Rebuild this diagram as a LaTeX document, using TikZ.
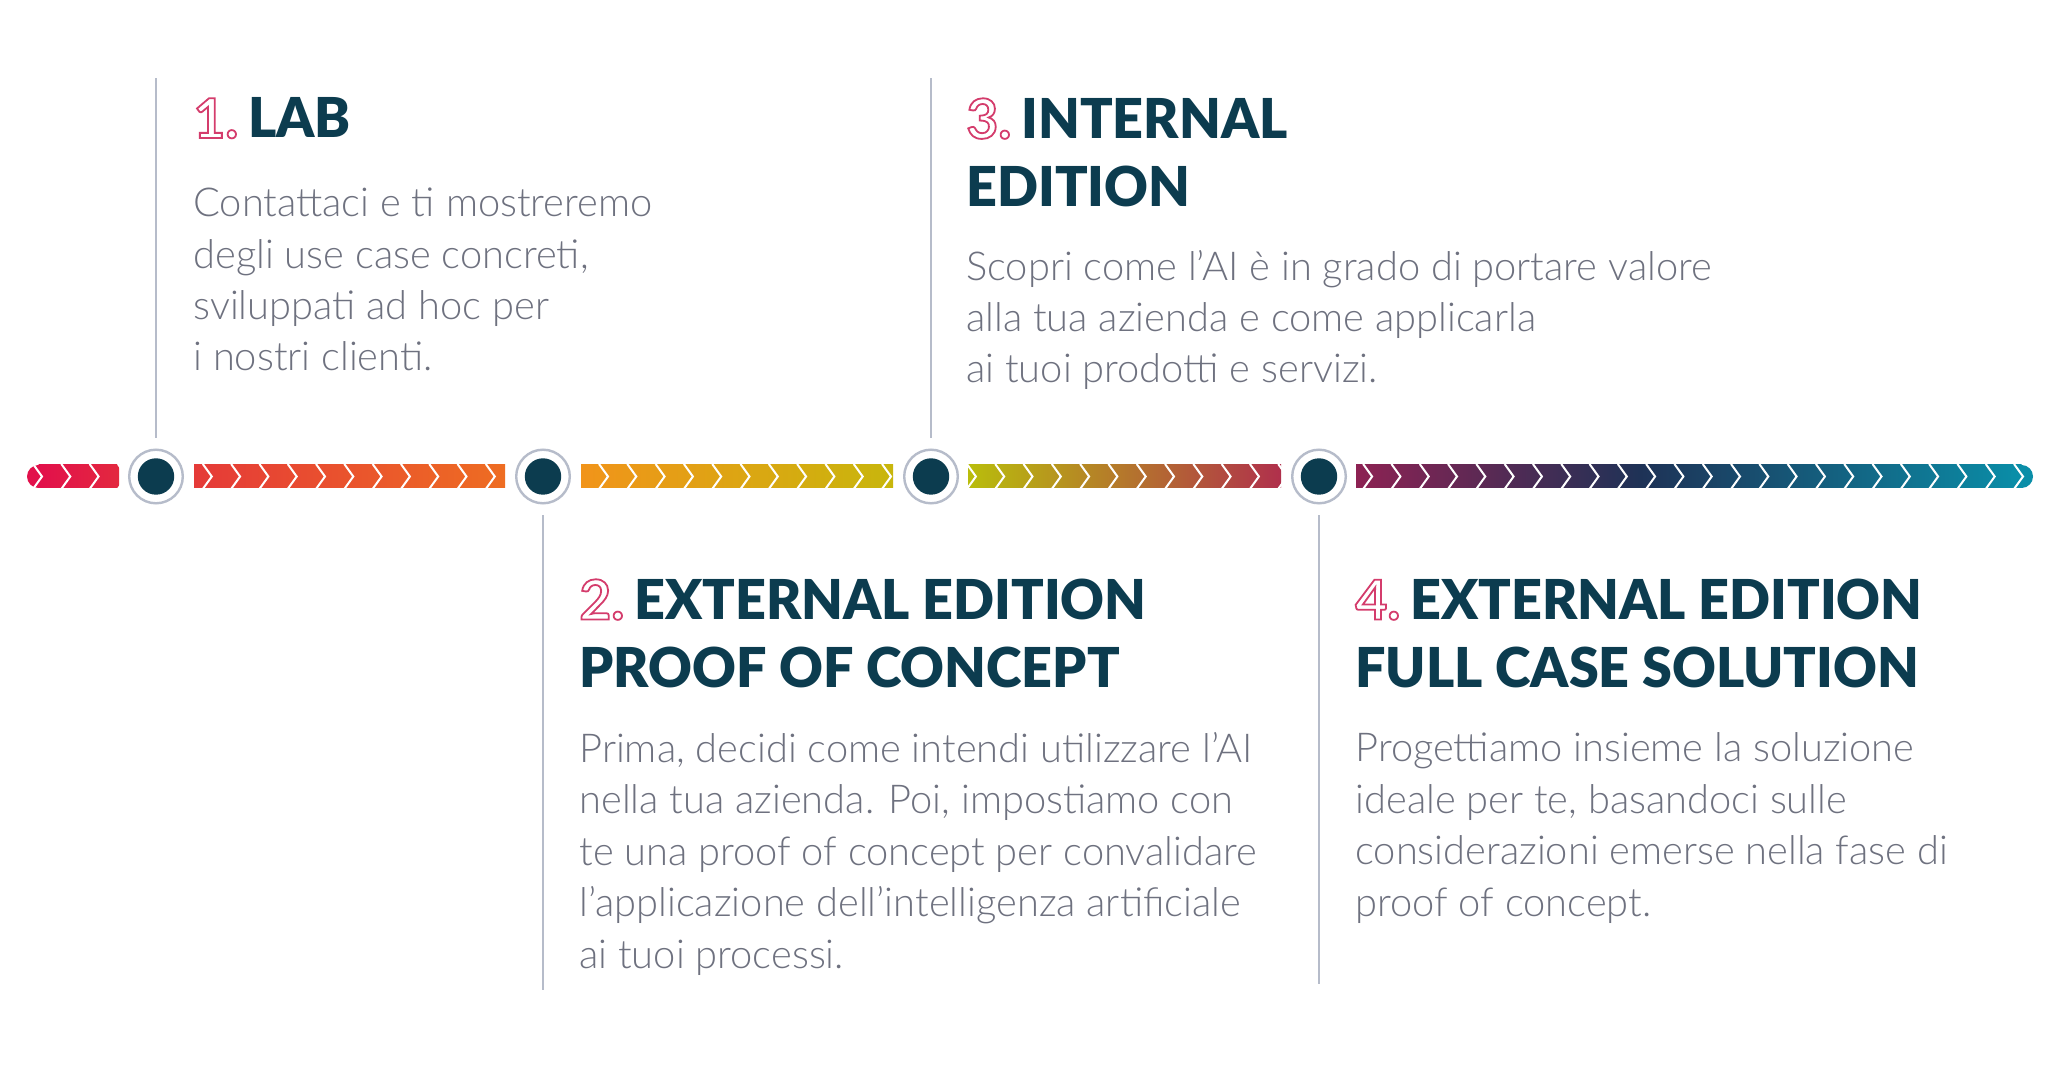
\documentclass[tikz,border=0pt]{standalone}
\usepackage{fontspec}
\setmainfont{Lato}
\newfontfamily\headfont{Lato Black}[FakeStretch=0.98]
\newfontfamily\bodyfont{Lato Light}
\usetikzlibrary{positioning}

\definecolor{headblue}{HTML}{0C3C4F}
\definecolor{bodygray}{HTML}{6E717F}
\definecolor{numpink}{HTML}{D43C6C}
\definecolor{stemgray}{HTML}{B6BCCA}
\definecolor{barA}{HTML}{E2104B}
\definecolor{barB}{HTML}{E3283F}
\definecolor{barC}{HTML}{E53A38}
\definecolor{barD}{HTML}{EE6D22}
\definecolor{barE}{HTML}{F1941A}
\definecolor{barF}{HTML}{C8B60C}
\definecolor{barG}{HTML}{B9BD0C}
\definecolor{barH}{HTML}{B0304C}
\definecolor{barI}{HTML}{8D2253}
\definecolor{barJ}{HTML}{1E3256}
\definecolor{barK}{HTML}{0A8EA8}

% outlined step number
\newcommand{\stepno}[1]{{\normalfont\bfseries\color{numpink}\special{pdf:literal 1 Tr 0.9 w}#1\special{pdf:literal 0 Tr}}\hspace{5pt}}

\begin{document}
\begin{tikzpicture}[
  x=0.5pt, y=-0.5pt,
  node distance=1cm,
  ring/.style={circle, draw=stemgray, line width=1.2pt, fill=white, inner sep=0pt,
    minimum size=26.8pt, outer sep=6pt,
    path picture={\fill[headblue] (path picture bounding box.center) circle[radius=9.1pt];}},
  stem/.style={stemgray, line width=1pt},
  chev/.style={white, line width=1pt},
  head/.style={anchor=base west, align=left, inner sep=0pt, text=headblue,
    font=\fontsize{27.5pt}{34.25pt}\headfont},
  body/.style={anchor=base west, align=left, inner sep=0pt, text=bodygray,
    font=\fontsize{19.9pt}{25.7pt}\bodyfont}
]
\useasboundingbox (0,0) rectangle (2060,1068);
\fill[white] (0,0) rectangle (2060,1068);

% gradient bar
\fill[barA] (38.5,476.5) circle[radius=5.75pt];
\shade[left color=barA, right color=barB] (38.5,465) rectangle (119,488);
\shade[left color=barC, right color=barD] (194,465) rectangle (505,488);
\shade[left color=barE, right color=barF] (581,465) rectangle (893,488);
\shade[left color=barG, right color=barH] (968,465) rectangle (1281,488);
\shade[left color=barI, right color=barJ] (1356,465) rectangle (1641,488);
\shade[left color=barJ, right color=barK] (1640,465) rectangle (2021.5,488);
\fill[barK] (2021.5,476.5) circle[radius=5.75pt];

\foreach \x in {33,61.3,...,2025}
  \draw[chev] (\x,464) -- ++(9,12.5) -- ++(-9,12.5);

% steps
\node[ring] (c1) at (156,476.5) {};
\node[ring] (c2) at (543,476.5) {};
\node[ring] (c3) at (931,476.5) {};
\node[ring] (c4) at (1319,476.5) {};

\coordinate (t1) at (156,78);
\coordinate (t3) at (931,78);
\coordinate (t2) at (543,990);
\coordinate (t4) at (1319,984);

\draw[stem] (c1) -- (t1);
\draw[stem] (c3) -- (t3);
\draw[stem] (c2) -- (t2);
\draw[stem] (c4) -- (t4);

\node[head] (h1) at (193,138) {\stepno{1.}LAB};
\node[body, below=116.5pt of h1.base west, anchor=base west] (b1)
  {Contattaci e ti mostreremo\\degli use case concreti,\\sviluppati ad hoc per\\i nostri clienti.};

\node[head] (h3) at (966,207) {\stepno{3.}INTERNAL\\EDITION};
\node[body, below=88pt of h3.base west, anchor=base west] (b3)
  {Scopri come l’AI è in grado di portare valore\\alla tua azienda e come applicarla\\ai tuoi prodotti e servizi.};

\node[head] (h2) at (579,688) {\stepno{2.}EXTERNAL EDITION\\PROOF OF CONCEPT};
\node[body, below=140pt of h2.base west, anchor=base west] (b2)
  {Prima, decidi come intendi utilizzare l’AI\\nella tua azienda. Poi, impostiamo con\\te una proof of concept per convalidare\\l’applicazione dell’intelligenza artificiale\\ai tuoi processi.};

\node[head] (h4) at (1355,688) {\stepno{4.}EXTERNAL EDITION\\FULL CASE SOLUTION};
\node[body, below=114pt of h4.base west, anchor=base west] (b4)
  {Progettiamo insieme la soluzione\\ideale per te, basandoci sulle\\considerazioni emerse nella fase di\\proof of concept.};

\end{tikzpicture}
\end{document}
